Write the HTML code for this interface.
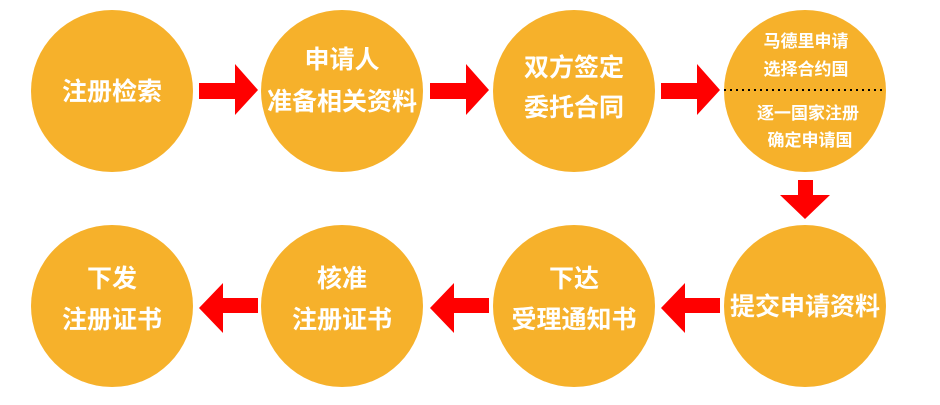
<!DOCTYPE html>
<html><head><meta charset="utf-8"><style>
body{margin:0;background:#fff;width:940px;height:400px;overflow:hidden;}
svg text{font-family:"Liberation Sans","Noto Sans CJK SC",sans-serif;font-weight:bold;fill:#fff;text-anchor:middle;}
</style></head><body>
<svg width="940" height="400" xmlns="http://www.w3.org/2000/svg">
<g fill="#F6B12B">
<circle cx="112" cy="91" r="81"/><circle cx="342" cy="91" r="81"/><circle cx="574" cy="91" r="81"/><circle cx="805" cy="91" r="81"/>
<circle cx="112" cy="306" r="81"/><circle cx="342" cy="306" r="81"/><circle cx="574" cy="306" r="81"/><circle cx="805" cy="306" r="81"/>
</g>
<g fill="#FF0000">
<polygon points="199,83 235,83 235,64 258,90 235,115 235,99 199,99"/>
<polygon points="430,83 466,83 466,64 489,90 466,115 466,99 430,99"/>
<polygon points="661,83 697,83 697,64 720,90 697,115 697,99 661,99"/>
<polygon points="798,180 813,180 813,195 830,195 805,219 780,195 798,195"/>
<polygon points="720,298 685,298 685,283 661,308 685,333 685,313 720,313"/>
<polygon points="489,298 454,298 454,283 430,308 454,333 454,313 489,313"/>
<polygon points="258,298 223,298 223,283 199,308 223,333 223,313 258,313"/>
</g>
<line x1="724" y1="90" x2="886" y2="90" stroke="#000" stroke-width="2" stroke-dasharray="2,4"/>
<g font-size="25">
<text x="112" y="100">注册检索</text>
<text x="342" y="68">申请人</text><text x="342" y="110">准备相关资料</text>
<text x="574" y="76">双方签定</text><text x="574" y="116">委托合同</text>
<text x="805" y="315">提交申请资料</text>
<text x="574" y="287">下达</text><text x="574" y="328">受理通知书</text>
<text x="342" y="287">核准</text><text x="342" y="328">注册证书</text>
<text x="112" y="287">下发</text><text x="112" y="328">注册证书</text>
</g>
<g font-size="17">
<text x="806" y="47">马德里申请</text><text x="806" y="75">选择合约国</text>
<text x="808" y="119">逐一国家注册</text><text x="810" y="146">确定申请国</text>
</g>
</svg>
</body></html>
